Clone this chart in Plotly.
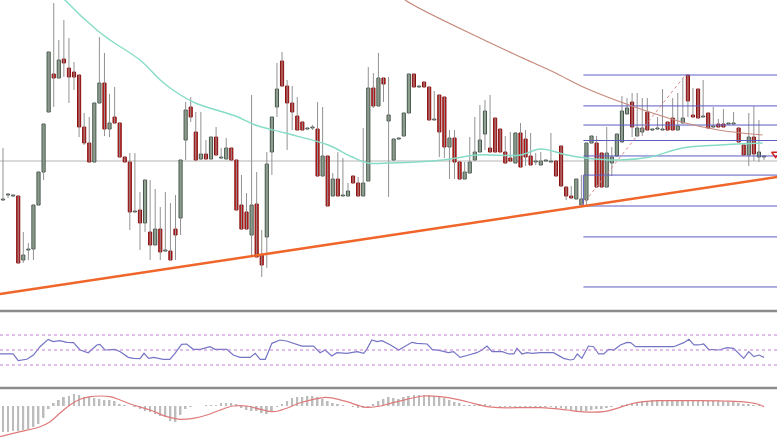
import plotly.graph_objects as go

# ---------------- data (price in arbitrary units) ----------------
open_ = [120,125,124,124,60,70,71,115,148,208,246,242,261,252,248,245,193,177,158,217,
         237,191,203,197,163,158,108,110,97,88,75,91,69,69,91,102,180,213,188,161,
         166,161,183,162,161,172,160,115,108,85,116,65,83,168,213,259,234,217,204,198,
         191,192,191,144,164,124,141,124,124,144,137,124,139,232,214,242,199,160,181,184,
         207,246,233,238,233,200,225,223,173,182,158,141,147,160,168,186,172,202,191,168,
         162,157,187,181,164,158,155,159,158,159,174,133,124,121,115,120,177,177,167,133,
         157,164,178,206,218,184,188,208,190,191,190,198,202,190,197,245,205,231,203,207,
         193,196,196,196,196,192,175,165,183,163,163]
high = [172,127,125,124,88,77,115,148,196,268,317,280,300,282,258,245,207,203,217,283,
        267,226,233,197,163,167,167,128,140,140,131,113,128,117,125,160,218,223,208,208,
        180,183,193,172,182,172,160,145,127,225,148,90,168,203,257,268,240,234,223,198,
        192,195,218,213,164,147,168,162,137,144,143,192,253,247,267,242,243,181,182,207,
        246,246,234,238,233,229,225,223,190,190,158,158,183,203,215,220,225,202,191,184,
        188,188,197,190,187,167,168,160,187,159,174,133,134,141,145,177,184,184,167,193,
        173,186,224,222,227,227,222,222,191,203,231,198,222,227,242,245,232,231,240,207,
        213,201,211,197,208,192,175,207,214,200,164]
low = [119,122,123,57,57,60,60,115,140,208,213,242,243,217,230,183,175,158,158,217,
       184,183,197,163,158,90,108,70,88,60,75,60,68,60,60,85,160,198,160,160,
       161,161,165,161,161,160,110,91,91,65,63,43,52,145,203,234,170,190,190,190,
       190,190,144,144,114,124,124,124,124,137,124,124,139,212,214,218,123,160,180,184,
       207,233,232,233,200,200,163,162,141,141,141,141,147,160,168,170,168,168,168,157,
       159,157,153,154,155,155,155,158,158,144,134,120,122,121,113,115,177,133,133,133,
       144,164,178,206,183,184,184,190,189,190,190,190,190,190,197,203,203,202,203,192,
       192,193,193,195,196,178,165,154,159,158,160]
close = [120,125,124,57,65,70,115,148,196,268,242,260,257,243,243,193,177,158,217,237,
         191,197,197,163,158,108,108,97,140,75,91,68,69,60,85,160,210,203,160,166,
         161,183,165,162,172,160,110,91,91,115,63,55,156,203,231,234,217,208,190,190,
         191,192,144,164,114,141,124,124,129,137,124,137,232,214,242,236,205,181,181,207,
         246,233,233,233,200,200,188,173,182,158,141,148,158,168,180,209,168,168,168,157,
         159,187,153,163,155,158,159,159,158,144,134,124,122,141,121,177,184,133,133,167,
         163,186,209,212,193,192,192,190,190,191,190,190,190,194,202,219,203,202,203,192,
         193,193,193,196,196,178,165,183,166,168,163]

# moving averages (candle index, price)
ma_fast_x = [11.2,12.2,18.5,21.1,27.0,31.0,33.5,37.9,45.8,49.7,55.6,64.1,68.8,72.0,76.3,
             86.8,93.5,102.0,105.9,111.2,114.8,121.7,127.6,133.9,141.4,149.7]
ma_fast_v = [326,320,290,280,260,240,230,217,204,195,187,175,163,157,157,
             160,165,165,171,165,162,160,163,172,175,177]
ma_slow_x = [78.5,79.3,96.1,102.0,108.5,114.8,120.7,128.0,134.5,141.0,149.7]
ma_slow_v = [325,320,277,263,248,232,220,207,197,190,185]

# rising support trend line anchors
trend_x = [-0.6, 152.6]
trend_v = [26, 143]

# Fibonacci retracement
fib_start = 114.4
fib_high = 245
fib_low = 114
fib_ratios = [0, 0.236, 0.382, 0.5, 0.618, 0.764, 1.0, 1.236, 1.618]
fib_swing_x = [114.0, 134.5]
fib_swing_v = [114, 245]

ref_level = 159

# signal arrow at right edge
arrow_x = [152.3]
arrow_v = [166]

# RSI
rsi_x = [-0.6,2.0,3.0,4.7,6.0,7.3,8.9,9.9,11.2,12.6,13.9,15.2,16.8,18.5,19.1,20.1,22.1,23.1,24.7,25.7,
         27.0,27.8,28.7,29.7,31.6,32.9,33.9,35.2,36.2,37.5,38.9,39.8,40.8,41.8,44.1,45.4,46.7,48.7,49.7,50.7,
         51.7,53.0,54.6,55.9,57.3,58.9,61.2,62.5,63.5,64.8,65.8,67.8,69.8,71.1,71.7,72.7,73.7,74.7,76.3,78.0,
         80.6,81.6,83.6,84.6,86.2,87.8,88.8,90.1,91.8,93.4,94.4,95.4,96.4,98.4,99.7,100.7,101.3,102.3,103.3,104.3,
         105.9,108.5,110.5,111.8,112.5,113.2,114.1,115.4,116.4,117.4,118.4,119.4,120.4,121.7,123.0,123.7,124.7,126.3,132.2,134.2,
         135.2,136.2,137.1,138.1,139.1,141.1,142.7,144.0,145.0,146.0,147.0,148.0,149.0,150.0]
rsi_v = [44.7,44.7,35.8,37.6,43.3,54.4,64.2,61.1,62.4,60.2,59.8,50,46.4,56.7,57.6,50,50.9,47.8,40.2,38.9,
         38.4,45.6,38.9,40.2,37.6,37.6,45.6,57.6,58.0,50.9,50.9,52.2,54.4,50.9,50.9,43.3,40.2,40.2,45.6,37.6,
         37.6,58.9,63.3,62.0,58.9,55.3,55.3,46.4,50,42.0,46.4,45.6,47.8,45.6,50.9,63.3,61.1,62.4,57,50,
         60.2,58.9,58.0,50.9,49.1,46.4,47.8,40.2,43.3,46.4,50,55.3,47.8,47.8,44.7,44.7,52.2,44.7,46.4,45.6,
         46.4,46.4,38.9,36.7,37.6,44.7,38.9,55.3,54.4,44.7,44.7,50.9,50,56.7,60.2,59.8,54.4,54.4,54.4,59.8,
         64.2,56.7,56.7,58.0,50.9,50,53.1,52.2,45.6,38.9,47.8,41.1,43.3,40.2]
rsi_levels = [70, 50, 30]

# MACD histogram (one per candle) and signal line
macd_hist = [-26,-26,-25,-25,-24,-23,-21,-18,-12,-3,3,
             6,9,10,12,11,9,9,8,7,6,6,5,2,1,0,-1,-3,-5,-6,-8,-10,-11,-15,-16,-9,-3,-1,0,0,1,1,1,3,3,3,2,
             -2,-4,-5,-5,-7,-8,-5,-1,2,5,8,9,9,10,10,9,7,5,3,2,1,0,-1,-2,-2,-1,2,5,7,9,8,
             7,9,10,11,11,11,11,10,10,8,6,4,3,1,1,1,2,2,1,0,
             -1,-1,-1,-1,-1,-1,-1,-1,-1,-1,-1,-2,-2,-3,-4,-5,-5,-5,-4,-3,-3,-2,-1,0,1,2,3,4,5,5,
             6,6,6,6,6,6,6,6,6,6,6,5,5,5,5,4,4,3,2,2,1,1,0]
sig_x = [-0.6,3.4,7.3,9.3,11.2,13.2,15.2,17.2,19.1,21.1,23.1,25.7,29.0,32.3,34.9,37.5,40.2,42.8,45.4,48.1,
         50.7,53.3,55.9,58.6,61.2,63.5,65.2,67.8,70.4,71.7,74.4,76.3,79.6,82.9,86.2,89.5,92.7,95.4,98.0,105.9,
         111.2,113.8,118.4,121.0,123.7,126.3,128.9,135.5,142.1,145.4,148.7,150.0]
sig_v = [-30.7,-25.7,-20.7,-15.7,-7.3,1,6.7,9.3,10,9.3,6,1,-4,-10.7,-13.3,-12.3,-9,-4,0,0,
         -3.3,-5.7,-2.3,3.3,6.7,8.7,7.7,4.3,0,-1.3,0,2.7,6.7,10,9.3,6.7,2.7,-0.7,-1.7,-1.7,
         -4,-5.7,-5.7,-2.3,2,4.3,5.3,5.3,5,4.3,2,-0.7]

# ---------------- figure ----------------
W, H = 777, 437
n = len(open_)
idx = list(range(n))

fig = go.Figure()

# wicks
wx, wy = [], []
for i in idx:
    wx += [i, i, None]
    wy += [low[i], high[i], None]
fig.add_trace(go.Scatter(x=wx, y=wy, mode="lines", line=dict(color="#929292", width=1),
                         hoverinfo="skip", showlegend=False))

# bodies
up = [close[i] >= open_[i] for i in idx]
base = [min(open_[i], close[i]) for i in idx]
height = [max(abs(close[i] - open_[i]), 1.0) for i in idx]
fig.add_trace(go.Bar(x=idx, y=height, base=base, width=0.62,
                     marker=dict(color=["#8eab8e" if u else "#c41e1e" for u in up],
                                 line=dict(color=["#44544a" if u else "#8a1010" for u in up], width=1)),
                     showlegend=False, hoverinfo="skip"))

# fib levels
fx, fy = [], []
for r in fib_ratios:
    lv = fib_high - r * (fib_high - fib_low)
    fx += [fib_start, 160, None]
    fy += [lv, lv, None]
fx += [fib_start, fib_start, None]
fy += [fib_high - 0.764 * (fib_high - fib_low), fib_low, None]
fig.add_trace(go.Scatter(x=fx, y=fy, mode="lines", line=dict(color="#5c5cc4", width=1),
                         hoverinfo="skip", showlegend=False))
fig.add_trace(go.Scatter(x=fib_swing_x, y=fib_swing_v, mode="lines",
                         line=dict(color="#d98a8a", width=1, dash="dot"),
                         hoverinfo="skip", showlegend=False))

# moving averages
fig.add_trace(go.Scatter(x=ma_fast_x, y=ma_fast_v, mode="lines", line=dict(color="#86dcc6", width=1.4, shape="spline"),
                         hoverinfo="skip", showlegend=False))
fig.add_trace(go.Scatter(x=ma_slow_x, y=ma_slow_v, mode="lines", line=dict(color="#c68a7c", width=1.2, shape="spline"),
                         hoverinfo="skip", showlegend=False))

# trend line
fig.add_trace(go.Scatter(x=trend_x, y=trend_v, mode="lines", line=dict(color="#f0652a", width=2.6),
                         hoverinfo="skip", showlegend=False))

# arrow mark
fig.add_trace(go.Scatter(x=arrow_x, y=arrow_v, mode="markers",
                         marker=dict(symbol="triangle-down-open", size=7, color="#d02020", line=dict(width=1.5)),
                         hoverinfo="skip", showlegend=False, cliponaxis=False))

# RSI
fig.add_trace(go.Scatter(x=rsi_x, y=rsi_v, mode="lines", line=dict(color="#7474c4", width=1.2),
                         yaxis="y2", hoverinfo="skip", showlegend=False))

# MACD
fig.add_trace(go.Bar(x=list(range(len(macd_hist))), y=macd_hist, width=0.36,
                     marker=dict(color="#bcbcbc", line=dict(width=0)),
                     yaxis="y3", hoverinfo="skip", showlegend=False))
fig.add_trace(go.Scatter(x=sig_x, y=sig_v, mode="lines", line=dict(color="#e07a7a", width=1.2, shape="spline"),
                         yaxis="y3", hoverinfo="skip", showlegend=False))

shapes = []
shapes.append(dict(type="line", xref="paper", yref="y", x0=0, x1=1, y0=ref_level, y1=ref_level,
                   line=dict(color="#b5b5b5", width=1), layer="below"))
for lv in rsi_levels:
    shapes.append(dict(type="line", xref="paper", yref="y2", x0=0, x1=1, y0=lv, y1=lv,
                       line=dict(color="#c47fd4", width=1, dash="dot")))
for py in (311, 388):
    shapes.append(dict(type="line", xref="paper", yref="paper", x0=0, x1=1,
                       y0=1 - py / H, y1=1 - py / H, line=dict(color="#8c8c8c", width=2.6)))

ax = dict(showgrid=False, zeroline=False, showticklabels=False, showline=False, ticks="", fixedrange=True)
fig.update_layout(
    width=W, height=H, margin=dict(l=0, r=0, t=0, b=0),
    paper_bgcolor="white", plot_bgcolor="white", barmode="overlay", showlegend=False,
    xaxis=dict(range=[-0.59, 152.56], **ax),
    yaxis=dict(domain=[1 - 309 / H, 1], range=[11, 320], **ax),
    yaxis2=dict(domain=[1 - 387.5 / H, 1 - 312.5 / H], range=[0, 100], **ax),
    yaxis3=dict(domain=[0, 1 - 390 / H], range=[-31, 16], **ax),
    shapes=shapes,
)

fig.write_html("out.html", config={"displayModeBar": False},
               post_script="document.body.style.margin='0';document.body.style.overflow='hidden';")
